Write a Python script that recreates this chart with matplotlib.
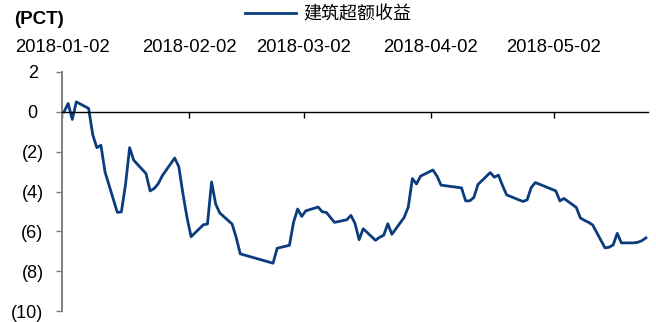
import numpy as np
import matplotlib.pyplot as plt
from matplotlib.ticker import FuncFormatter

plt.rcParams['font.family'] = ['Liberation Sans', 'Noto Sans CJK SC', 'DejaVu Sans']

# trading days and excess return (pct)
dates = [
    "2018-01-02", "2018-01-03", "2018-01-04", "2018-01-05", "2018-01-08",
    "2018-01-09", "2018-01-10", "2018-01-11", "2018-01-12", "2018-01-15",
    "2018-01-16", "2018-01-17", "2018-01-18", "2018-01-19", "2018-01-22",
    "2018-01-23", "2018-01-24", "2018-01-25", "2018-01-26", "2018-01-29",
    "2018-01-30", "2018-01-31", "2018-02-01", "2018-02-02", "2018-02-05",
    "2018-02-06", "2018-02-07", "2018-02-08", "2018-02-09", "2018-02-12",
    "2018-02-13", "2018-02-14", "2018-02-22", "2018-02-23", "2018-02-26",
    "2018-02-27", "2018-02-28", "2018-03-01", "2018-03-02", "2018-03-05",
    "2018-03-06", "2018-03-07", "2018-03-08", "2018-03-09", "2018-03-12",
    "2018-03-13", "2018-03-14", "2018-03-15", "2018-03-16", "2018-03-19",
    "2018-03-20", "2018-03-21", "2018-03-22", "2018-03-23", "2018-03-26",
    "2018-03-27", "2018-03-28", "2018-03-29", "2018-03-30", "2018-04-02",
    "2018-04-03", "2018-04-04", "2018-04-09", "2018-04-10", "2018-04-11",
    "2018-04-12", "2018-04-13", "2018-04-16", "2018-04-17", "2018-04-18",
    "2018-04-19", "2018-04-20", "2018-04-23", "2018-04-24", "2018-04-25",
    "2018-04-26", "2018-04-27", "2018-05-02", "2018-05-03", "2018-05-04",
    "2018-05-07", "2018-05-08", "2018-05-09", "2018-05-10", "2018-05-11",
    "2018-05-14", "2018-05-15", "2018-05-16", "2018-05-17", "2018-05-18",
    "2018-05-21", "2018-05-22", "2018-05-23", "2018-05-24",
]
excess = [
    0.0, 0.42, -0.38, 0.5, 0.17,
    -1.15, -1.8, -1.68, -3.02, -5.05,
    -5.02, -3.65, -1.8, -2.43, -3.1,
    -3.97, -3.85, -3.6, -3.2, -2.32,
    -2.75, -4.1, -5.3, -6.27, -5.67,
    -5.63, -3.52, -4.63, -5.08, -5.63,
    -6.3, -7.13, -7.6, -6.85, -6.7,
    -5.55, -4.88, -5.25, -4.97, -4.78,
    -5.02, -5.05, -5.3, -5.55, -5.42,
    -5.2, -5.6, -6.42, -5.87, -6.45,
    -6.3, -6.2, -5.62, -6.15, -5.3,
    -4.78, -3.35, -3.62, -3.23, -2.92,
    -3.22, -3.68, -3.82, -4.47, -4.47,
    -4.3, -3.65, -3.05, -3.28, -3.18,
    -3.7, -4.17, -4.42, -4.5, -4.42,
    -3.8, -3.55, -3.97, -4.47, -4.35,
    -4.8, -5.33, -5.45, -5.55, -5.68,
    -6.83, -6.8, -6.68, -6.1, -6.58,
    -6.58, -6.55, -6.47, -6.33,
]
tick_labels = ["2018-01-02", "2018-02-02", "2018-03-02", "2018-04-02", "2018-05-02"]

x = np.array(dates, dtype="datetime64[D]") + np.timedelta64(12, "h")
ticks = np.array(tick_labels, dtype="datetime64[D]")

fig = plt.figure(figsize=(6.56, 3.22), dpi=100)
ax = fig.add_axes([62 / 656, 11 / 322, 586 / 656, 239 / 322])

ax.plot(x, excess, color="#0B3C7D", lw=2.0, label="建筑超额收益")

ax.set_xlim(np.datetime64("2018-01-02"), np.datetime64("2018-05-25"))
ax.set_ylim(-10, 2)
ax.set_yticks(range(-10, 3, 2))
ax.yaxis.set_major_formatter(FuncFormatter(
    lambda v, p: "(%d)" % abs(v) if v < 0 else "%d " % v))

ax.set_xticks(ticks)
ax.set_xticklabels(tick_labels)

for s in ["top", "right"]:
    ax.spines[s].set_visible(False)
ax.spines["bottom"].set_position(("data", 0))
ax.spines["bottom"].set_linewidth(1.0)
ax.spines["left"].set_color("#7f7f7f")
ax.spines["left"].set_linewidth(1.4)

ax.tick_params(axis="x", direction="out", length=4.3, width=1, colors="black",
               labelbottom=False, labeltop=True, top=False, bottom=True,
               pad=7, labelsize=13.3)
ax.tick_params(axis="y", direction="out", length=4.3, width=1, color="#7f7f7f",
               labelcolor="black", pad=9, labelsize=13)

fig.text(14 / 656, 1 - 20 / 322, "(PCT)", fontsize=13.5, fontweight="bold",
         va="center", ha="left")
fig.legend(loc="center", bbox_to_anchor=(0.5, 1 - 15 / 322), frameon=False,
           fontsize=13, handlelength=2.8, handletextpad=0.4)

fig.savefig("out.png", dpi=100)
